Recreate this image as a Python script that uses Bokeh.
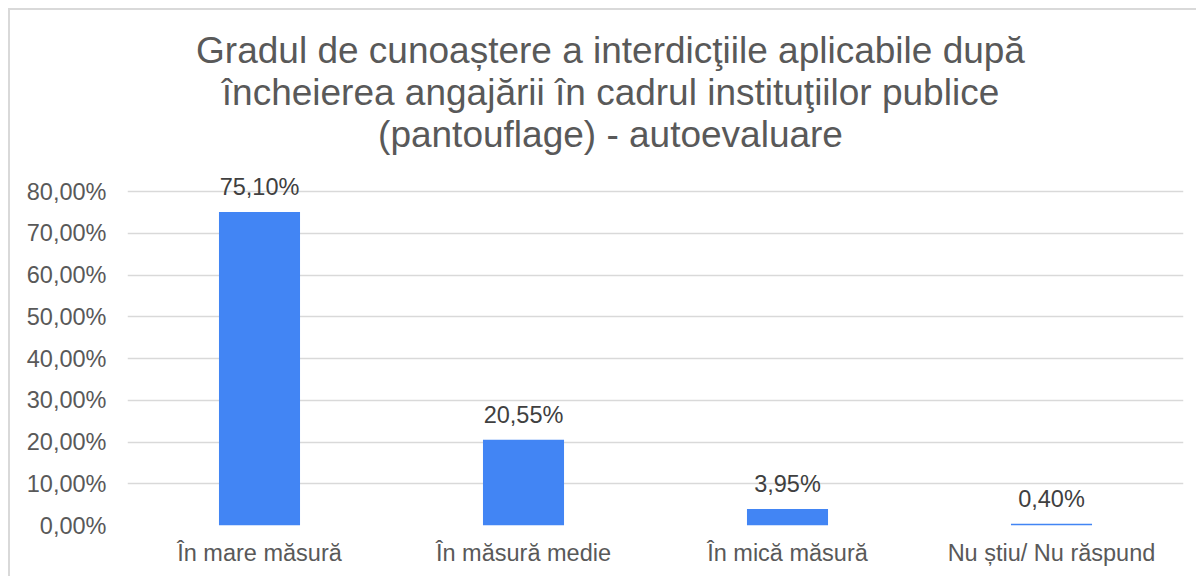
from bokeh.plotting import figure
from bokeh.models import ColumnDataSource, LabelSet, Label, CustomJSTickFormatter, FixedTicker, Range1d
from bokeh.core.properties import value
from bokeh.embed import file_html
from bokeh.resources import INLINE

categories = ["În mare măsură", "În măsură medie", "În mică măsură", "Nu știu/ Nu răspund"]
values = [75.10, 20.55, 3.95, 0.40]
y_ticks = [0, 10, 20, 30, 40, 50, 60, 70, 80]
title_lines = [
    "Gradul de cunoaștere a interdicţiile aplicabile după",
    "încheierea angajării în cadrul instituţiilor publice",
    "(pantouflage) - autoevaluare",
]

FONT = "Liberation Sans"
TXT = "#595959"

labels = [f"{v:.2f}".replace(".", ",") + "%" for v in values]
src = ColumnDataSource(dict(cat=categories, val=values, lab=labels))

# frame spans from the top of the figure down to the 0 line; 80% line sits 334px above 0
frame_h = 515
y_end = 80 * frame_h / 334

p = figure(
    x_range=categories, y_range=Range1d(0, y_end),
    width=1188, height=568, output_backend="svg", toolbar_location=None,
    min_border_left=117, min_border_right=15, min_border_top=0, min_border_bottom=53,
)
p.styles = {"margin-left": "8px", "margin-top": "8px",
            "border-left": "2px solid #d9d9d9", "border-top": "2px solid #d9d9d9"}
p.outline_line_color = None

p.vbar(x="cat", top="val", width=0.307, source=src, fill_color="#4285F4", line_color=None)

p.add_layout(LabelSet(x="cat", y="val", text="lab", source=src, text_align="center",
                      text_baseline="alphabetic", y_offset=17, text_font=value(FONT),
                      text_font_size="23.5px", text_color="#404040"))

# title lines, positioned in screen units relative to the plot frame
for line, base in zip(title_lines, [475, 433, 391]):
    p.add_layout(Label(x=483, y=base, x_units="screen", y_units="screen", text=line,
                       text_align="center", text_baseline="alphabetic",
                       text_font=FONT, text_font_size="37px", text_color=TXT))

p.yaxis.ticker = FixedTicker(ticks=y_ticks)
p.yaxis.formatter = CustomJSTickFormatter(code="return tick.toFixed(2).replace('.', ',') + '%';")
for ax in (p.xaxis[0], p.yaxis[0]):
    ax.axis_line_color = None
    ax.major_tick_line_color = None
    ax.minor_tick_line_color = None
    ax.major_label_text_font = FONT
    ax.major_label_text_font_size = "23.5px"
    ax.major_label_text_color = TXT
p.yaxis.major_label_standoff = 15
p.xaxis.major_label_standoff = 8

p.xgrid.grid_line_color = None
p.ygrid.grid_line_color = "#d9d9d9"
p.ygrid.grid_line_width = 1.5

open("out.html", "w").write(file_html(p, INLINE))
